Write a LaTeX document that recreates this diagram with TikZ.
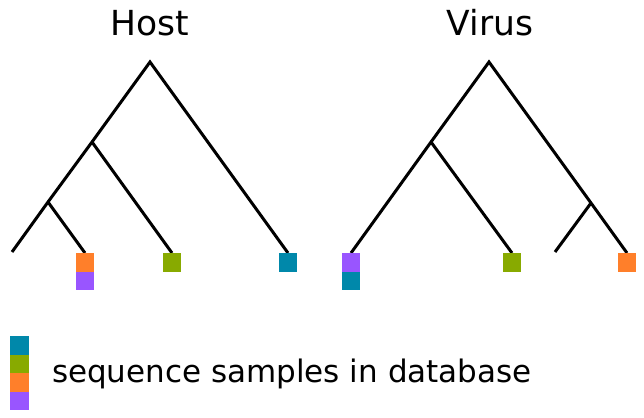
\documentclass[tikz,border=0pt]{standalone}
\usepackage{fontspec}
\setmainfont{DejaVu Sans}
\usetikzlibrary{positioning}
\definecolor{seqteal}{HTML}{0088AA}
\definecolor{seqgreen}{HTML}{88AA00}
\definecolor{seqorange}{HTML}{FF7F2A}
\definecolor{seqpurple}{HTML}{9955FF}
\tikzset{sample/.style={fill=#1,minimum size=18.5pt,inner sep=0pt,outer sep=0pt,anchor=north}}

\begin{document}
\begin{tikzpicture}[x=1pt,y=-1pt,line width=3pt]
\useasboundingbox (0,0) rectangle (644,417);
% host tree
\node[anchor=base,font=\fontsize{34.5}{40}\selectfont] (host) at (150,36) {Host};
\coordinate (H) at (150,62);
\coordinate (H1) at (92,142);
\coordinate (H2) at (48,202);
\coordinate (Ha) at (12,252);
\coordinate (Hb) at (85,253);
\coordinate (Hc) at (172,253);
\coordinate (Hd) at (288,253);
\draw (Ha) -- (H2) -- (H1) -- (H) -- (Hd);
\draw (H2) -- (Hb);
\draw (H1) -- (Hc);
\node[sample=seqorange] (Hb1) at (Hb) {};
\node[sample=seqpurple,below=0pt of Hb1] (Hb2) {};
\node[sample=seqgreen] (Hc1) at (Hc) {};
\node[sample=seqteal] (Hd1) at (Hd) {};
% virus tree
\node[anchor=base,font=\fontsize{34.5}{40}\selectfont] (virus) at (490,36) {Virus};
\coordinate (V) at (489,62);
\coordinate (V1) at (431,142);
\coordinate (V2) at (591,203);
\coordinate (Va) at (351,253);
\coordinate (Vb) at (512,253);
\coordinate (Vc) at (555,252);
\coordinate (Vd) at (627,253);
\draw (Va) -- (V1) -- (V) -- (V2) -- (Vd);
\draw (V1) -- (Vb);
\draw (V2) -- (Vc);
\node[sample=seqpurple] (Va1) at (Va) {};
\node[sample=seqteal,below=0pt of Va1] (Va2) {};
\node[sample=seqgreen] (Vb1) at (Vb) {};
\node[sample=seqorange] (Vd1) at (Vd) {};
% legend
\node[sample=seqteal] (L1) at (19.5,336) {};
\node[sample=seqgreen,below=0pt of L1] (L2) {};
\node[sample=seqorange,below=0pt of L2] (L3) {};
\node[sample=seqpurple,below=0pt of L3] (L4) {};
\node[anchor=base west,inner sep=0pt,font=\fontsize{31}{37}\selectfont] (legend) at (50.5,382.5) {sequence samples in database};
\end{tikzpicture}
\end{document}
